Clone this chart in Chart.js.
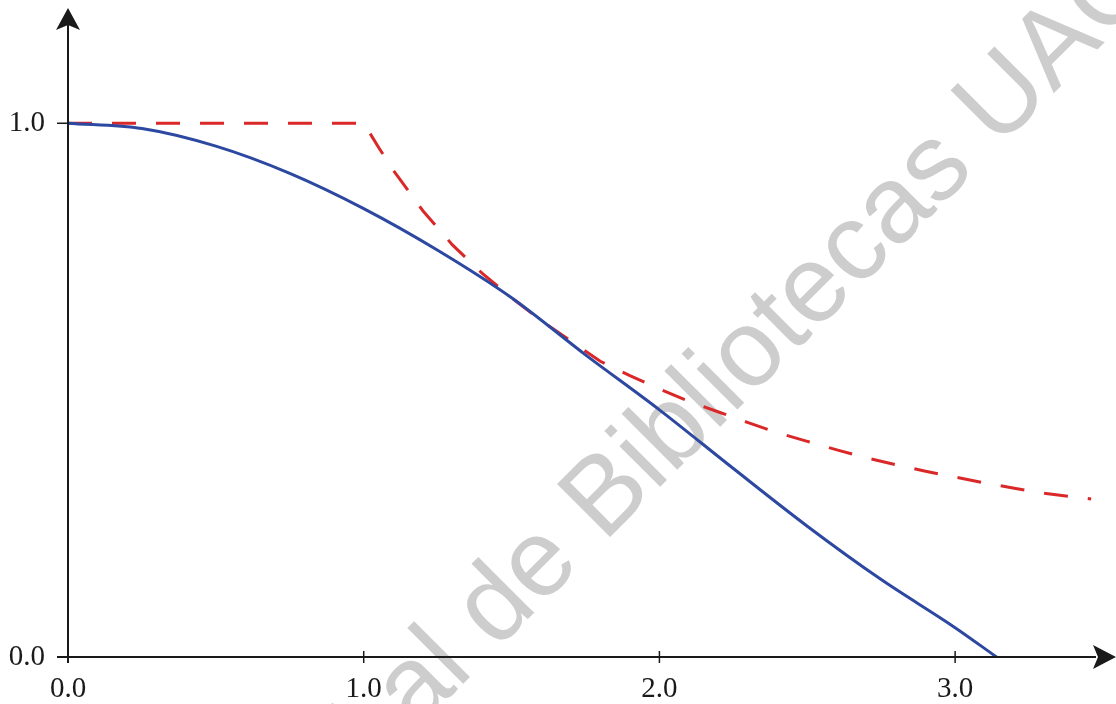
<!DOCTYPE html>
<html>
<head>
<meta charset="utf-8">
<script src="https://cdn.jsdelivr.net/npm/chart.js@4"></script>
<style>
  html, body { margin: 0; padding: 0; background: #fff; }
  #wrap { width: 1116px; height: 704px; position: relative; }
</style>
</head>
<body>
<div id="wrap"><canvas id="curveChart"></canvas></div>
<script>
// solid blue curve
const blueX = [0, 0.25, 0.5, 0.75, 1.0, 1.25, 1.5, 1.75, 2.0, 2.25, 2.5, 2.75, 3.0, 3.14];
const blueY = [1.0, 0.99, 0.957, 0.906, 0.84, 0.762, 0.673, 0.566, 0.463, 0.353, 0.245, 0.145, 0.055, 0.0];

// dashed red curve
const redX = [0, 1.0, 1.05, 1.1, 1.2, 1.3, 1.4, 1.5, 1.6, 1.7, 1.8, 1.9, 2.0, 2.1, 2.2, 2.3, 2.4, 2.5, 2.6, 2.7, 2.8, 2.9, 3.0, 3.1, 3.2, 3.3, 3.4, 3.46];
const redY = [1.0, 1.0, 0.955, 0.912, 0.836, 0.772, 0.719, 0.673, 0.63, 0.592, 0.554, 0.527, 0.502, 0.479, 0.459, 0.439, 0.42, 0.404, 0.388, 0.373, 0.36, 0.348, 0.337, 0.326, 0.316, 0.307, 0.300, 0.296];

const xTicks = [0, 1, 2, 3];
const yTicks = [0, 1];
const watermarkText = 'Digital de Bibliotecas UAC';

function toPoints(xs, ys) {
    return xs.map((x, i) => ({ x: x, y: ys[i] }));
}

const ink = '#1a1a1a';
const serif = '"Liberation Serif", "Times New Roman", serif';

// axis lines with arrowheads, tick marks and the grey watermark
const axesPlugin = {
    id: 'axesPlugin',
    beforeDraw(chart) {
        const ctx = chart.ctx;
        ctx.save();
        ctx.font = '109px "Liberation Sans", Arial, sans-serif';
        ctx.fillStyle = '#cdcdcd';
        ctx.textBaseline = 'alphabetic';
        // anchor on the "l" of "Digital"
        const lead = ctx.measureText('Digita').width;
        ctx.translate(458, 689);
        ctx.rotate(-45 * Math.PI / 180);
        ctx.fillText(watermarkText, -lead, 0);
        ctx.restore();
    },
    afterDraw(chart) {
        const ctx = chart.ctx;
        const xs = chart.scales.x;
        const ys = chart.scales.y;
        const x0 = xs.getPixelForValue(0);
        const y0 = ys.getPixelForValue(0);
        const right = chart.width;
        ctx.save();
        ctx.strokeStyle = ink;
        ctx.fillStyle = ink;
        ctx.lineWidth = 2;
        ctx.beginPath();
        ctx.moveTo(x0, y0 + 6);
        ctx.lineTo(x0, 24);
        ctx.moveTo(x0 - 11, y0);
        ctx.lineTo(right - 20, y0);
        ctx.stroke();

        ctx.lineWidth = 1.5;
        ctx.beginPath();
        yTicks.forEach(v => {
            const p = ys.getPixelForValue(v);
            ctx.moveTo(x0 - 11, p);
            ctx.lineTo(x0, p);
        });
        xTicks.forEach(v => {
            const p = xs.getPixelForValue(v);
            ctx.moveTo(p, y0 - 6);
            ctx.lineTo(p, y0 + 6);
        });
        ctx.stroke();

        // arrowheads
        ctx.beginPath();
        ctx.moveTo(x0, 8);
        ctx.lineTo(x0 + 12, 30);
        ctx.lineTo(x0, 25);
        ctx.lineTo(x0 - 12, 30);
        ctx.closePath();
        ctx.fill();
        ctx.beginPath();
        ctx.moveTo(right, y0);
        ctx.lineTo(right - 23, y0 - 12);
        ctx.lineTo(right - 18, y0);
        ctx.lineTo(right - 23, y0 + 12);
        ctx.closePath();
        ctx.fill();
        ctx.restore();
    }
};

const ctx = document.getElementById('curveChart').getContext('2d');
new Chart(ctx, {
    type: 'line',
    data: {
        datasets: [{
            label: 'solid',
            data: toPoints(blueX, blueY),
            borderColor: 'rgb(44, 72, 160)',
            borderWidth: 3,
            pointRadius: 0,
            cubicInterpolationMode: 'monotone'
        }, {
            label: 'dashed',
            data: toPoints(redX, redY),
            borderColor: 'rgb(218, 40, 40)',
            borderWidth: 3,
            borderDash: [24, 20],
            pointRadius: 0,
            tension: 0
        }]
    },
    options: {
        responsive: true,
        maintainAspectRatio: false,
        animation: false,
        layout: { padding: { top: 16, right: 0, left: 0, bottom: 0 } },
        plugins: {
            legend: { display: false },
            tooltip: { enabled: false }
        },
        scales: {
            x: {
                type: 'linear',
                min: 0,
                max: 3.544,
                grid: { display: false },
                border: { display: false },
                afterBuildTicks: scale => { scale.ticks = xTicks.map(v => ({ value: v })); },
                afterFit: scale => { scale.height = 47; },
                ticks: {
                    padding: 7,
                    color: ink,
                    font: { family: serif, size: 29 },
                    showLabelBackdrop: true,
                    backdropColor: '#ffffff',
                    backdropPadding: 3,
                    callback: v => v.toFixed(1)
                }
            },
            y: {
                min: 0,
                max: 1.17,
                grid: { display: false },
                border: { display: false },
                afterBuildTicks: scale => { scale.ticks = yTicks.map(v => ({ value: v })); },
                afterFit: scale => { scale.width = 68; },
                ticks: {
                    padding: 15,
                    color: ink,
                    font: { family: serif, size: 29 },
                    callback: v => v.toFixed(1)
                }
            }
        }
    },
    plugins: [axesPlugin]
});
</script>
</body>
</html>
